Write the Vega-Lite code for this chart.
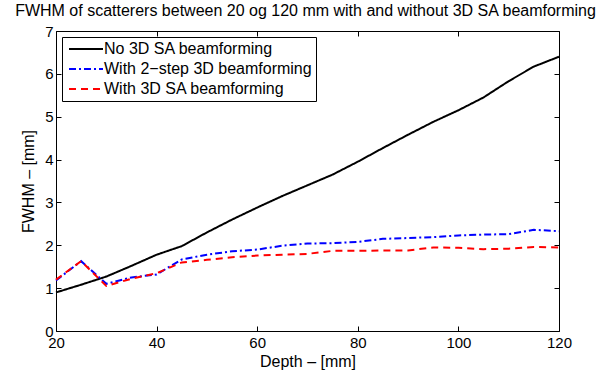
{
  "$schema": "https://vega.github.io/schema/vega-lite/v6.json",
  "width": 503,
  "height": 300,
  "autosize": "none",
  "padding": {"left": 56, "top": 31, "right": 43, "bottom": 45},
  "background": "white",
  "config": {
    "font": "Liberation Sans",
    "view": {"stroke": "black", "strokeWidth": 1},
    "axis": {"grid": false, "domain": false, "labelFont": "Liberation Sans", "titleFont": "Liberation Sans", "labelFontSize": 15, "titleFontSize": 16, "titleFontWeight": "normal", "labelColor": "black", "titleColor": "black", "tickColor": "black", "tickSize": -5, "tickWidth": 1, "labelFlush": false}
  },
  "title": {"text": "FWHM of scatterers between 20 og 120 mm with and without 3D SA beamforming", "fontSize": 16, "fontWeight": "normal", "font": "Liberation Sans", "color": "black", "offset": 5, "dx": -2},
  "data": {"values": [
    {"depth": 20, "fwhm": 0.9, "series": "No 3D SA beamforming"},
    {"depth": 25, "fwhm": 1.08, "series": "No 3D SA beamforming"},
    {"depth": 30, "fwhm": 1.27, "series": "No 3D SA beamforming"},
    {"depth": 35, "fwhm": 1.52, "series": "No 3D SA beamforming"},
    {"depth": 40, "fwhm": 1.78, "series": "No 3D SA beamforming"},
    {"depth": 45, "fwhm": 1.98, "series": "No 3D SA beamforming"},
    {"depth": 50, "fwhm": 2.3, "series": "No 3D SA beamforming"},
    {"depth": 55, "fwhm": 2.6, "series": "No 3D SA beamforming"},
    {"depth": 60, "fwhm": 2.88, "series": "No 3D SA beamforming"},
    {"depth": 65, "fwhm": 3.15, "series": "No 3D SA beamforming"},
    {"depth": 70, "fwhm": 3.4, "series": "No 3D SA beamforming"},
    {"depth": 75, "fwhm": 3.65, "series": "No 3D SA beamforming"},
    {"depth": 80, "fwhm": 3.95, "series": "No 3D SA beamforming"},
    {"depth": 85, "fwhm": 4.27, "series": "No 3D SA beamforming"},
    {"depth": 90, "fwhm": 4.58, "series": "No 3D SA beamforming"},
    {"depth": 95, "fwhm": 4.88, "series": "No 3D SA beamforming"},
    {"depth": 100, "fwhm": 5.15, "series": "No 3D SA beamforming"},
    {"depth": 105, "fwhm": 5.45, "series": "No 3D SA beamforming"},
    {"depth": 110, "fwhm": 5.83, "series": "No 3D SA beamforming"},
    {"depth": 115, "fwhm": 6.17, "series": "No 3D SA beamforming"},
    {"depth": 120, "fwhm": 6.4, "series": "No 3D SA beamforming"},
    {"depth": 20, "fwhm": 1.18, "series": "With 2−step 3D beamforming"},
    {"depth": 25, "fwhm": 1.63, "series": "With 2−step 3D beamforming"},
    {"depth": 30, "fwhm": 1.1, "series": "With 2−step 3D beamforming"},
    {"depth": 35, "fwhm": 1.25, "series": "With 2−step 3D beamforming"},
    {"depth": 40, "fwhm": 1.32, "series": "With 2−step 3D beamforming"},
    {"depth": 45, "fwhm": 1.67, "series": "With 2−step 3D beamforming"},
    {"depth": 50, "fwhm": 1.78, "series": "With 2−step 3D beamforming"},
    {"depth": 55, "fwhm": 1.86, "series": "With 2−step 3D beamforming"},
    {"depth": 60, "fwhm": 1.9, "series": "With 2−step 3D beamforming"},
    {"depth": 65, "fwhm": 1.99, "series": "With 2−step 3D beamforming"},
    {"depth": 70, "fwhm": 2.04, "series": "With 2−step 3D beamforming"},
    {"depth": 75, "fwhm": 2.05, "series": "With 2−step 3D beamforming"},
    {"depth": 80, "fwhm": 2.08, "series": "With 2−step 3D beamforming"},
    {"depth": 85, "fwhm": 2.15, "series": "With 2−step 3D beamforming"},
    {"depth": 90, "fwhm": 2.17, "series": "With 2−step 3D beamforming"},
    {"depth": 95, "fwhm": 2.19, "series": "With 2−step 3D beamforming"},
    {"depth": 100, "fwhm": 2.23, "series": "With 2−step 3D beamforming"},
    {"depth": 105, "fwhm": 2.25, "series": "With 2−step 3D beamforming"},
    {"depth": 110, "fwhm": 2.26, "series": "With 2−step 3D beamforming"},
    {"depth": 115, "fwhm": 2.36, "series": "With 2−step 3D beamforming"},
    {"depth": 120, "fwhm": 2.33, "series": "With 2−step 3D beamforming"},
    {"depth": 20, "fwhm": 1.2, "series": "With 3D SA beamforming"},
    {"depth": 25, "fwhm": 1.63, "series": "With 3D SA beamforming"},
    {"depth": 30, "fwhm": 1.05, "series": "With 3D SA beamforming"},
    {"depth": 35, "fwhm": 1.22, "series": "With 3D SA beamforming"},
    {"depth": 40, "fwhm": 1.35, "series": "With 3D SA beamforming"},
    {"depth": 45, "fwhm": 1.6, "series": "With 3D SA beamforming"},
    {"depth": 50, "fwhm": 1.66, "series": "With 3D SA beamforming"},
    {"depth": 55, "fwhm": 1.72, "series": "With 3D SA beamforming"},
    {"depth": 60, "fwhm": 1.76, "series": "With 3D SA beamforming"},
    {"depth": 65, "fwhm": 1.78, "series": "With 3D SA beamforming"},
    {"depth": 70, "fwhm": 1.8, "series": "With 3D SA beamforming"},
    {"depth": 75, "fwhm": 1.87, "series": "With 3D SA beamforming"},
    {"depth": 80, "fwhm": 1.87, "series": "With 3D SA beamforming"},
    {"depth": 85, "fwhm": 1.88, "series": "With 3D SA beamforming"},
    {"depth": 90, "fwhm": 1.88, "series": "With 3D SA beamforming"},
    {"depth": 95, "fwhm": 1.95, "series": "With 3D SA beamforming"},
    {"depth": 100, "fwhm": 1.94, "series": "With 3D SA beamforming"},
    {"depth": 105, "fwhm": 1.91, "series": "With 3D SA beamforming"},
    {"depth": 110, "fwhm": 1.92, "series": "With 3D SA beamforming"},
    {"depth": 115, "fwhm": 1.96, "series": "With 3D SA beamforming"},
    {"depth": 120, "fwhm": 1.95, "series": "With 3D SA beamforming"}
  ]},
  "layer": [
    {
      "mark": {"type": "line", "strokeWidth": 2},
      "encoding": {
        "x": {"field": "depth", "type": "quantitative", "scale": {"domain": [20, 120], "nice": false, "zero": false}, "axis": {"values": [20, 40, 60, 80, 100, 120], "title": "Depth – [mm]", "labelPadding": 9, "titlePadding": 3}},
        "y": {"field": "fwhm", "type": "quantitative", "scale": {"domain": [0, 7], "nice": false}, "axis": {"values": [0, 1, 2, 3, 4, 5, 6, 7], "title": "FWHM – [mm]", "labelPadding": 8, "titlePadding": 8}},
        "color": {"field": "series", "type": "nominal", "sort": null,
          "scale": {"domain": ["No 3D SA beamforming", "With 2−step 3D beamforming", "With 3D SA beamforming"], "range": ["black", "#0000ff", "#ff0000"]},
          "legend": {"title": null, "orient": "none", "legendX": 6, "legendY": 6, "strokeColor": "black", "fillColor": "white", "padding": 4, "cornerRadius": 0, "symbolType": "M-1,0L5.8,0", "symbolSize": 100, "symbolStrokeWidth": 2, "labelFontSize": 16, "labelFont": "Liberation Sans", "labelColor": "black", "labelOffset": 22, "rowPadding": 4, "labelLimit": 400}},
        "strokeDash": {"field": "series", "type": "nominal", "sort": null,
          "scale": {"domain": ["No 3D SA beamforming", "With 2−step 3D beamforming", "With 3D SA beamforming"], "range": [[1, 0], [7, 3, 2, 3], [7, 5]]},
          "legend": {"title": null, "orient": "none", "legendX": 6, "legendY": 6, "strokeColor": "black", "fillColor": "white", "padding": 4, "cornerRadius": 0, "symbolType": "M-1,0L5.8,0", "symbolSize": 100, "symbolStrokeWidth": 2, "labelFontSize": 16, "labelFont": "Liberation Sans", "labelColor": "black", "labelOffset": 22, "rowPadding": 4, "labelLimit": 400}}
      }
    },
    {
      "mark": {"type": "line", "strokeOpacity": 0},
      "encoding": {
        "x": {"field": "depth", "type": "quantitative", "axis": {"orient": "top", "values": [20, 40, 60, 80, 100, 120], "labels": false, "title": null}},
        "y": {"field": "fwhm", "type": "quantitative", "axis": {"orient": "right", "values": [0, 1, 2, 3, 4, 5, 6, 7], "labels": false, "title": null}},
        "detail": {"field": "series"}
      }
    }
  ],
  "resolve": {"axis": {"x": "independent", "y": "independent"}}
}
